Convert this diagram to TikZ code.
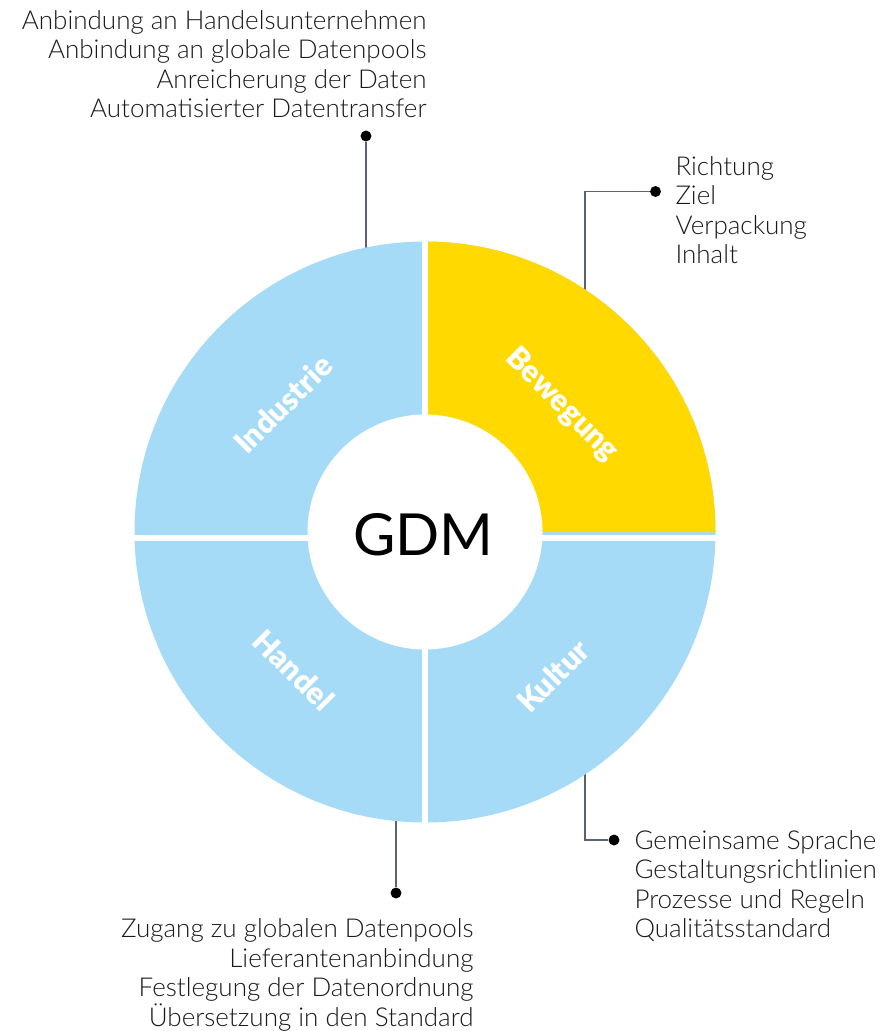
\documentclass[tikz,border=0pt]{standalone}
\usepackage{fontspec}
\setmainfont{Lato}[UprightFont={* Light}, BoldFont={* Black}]
\newfontfamily\gdmfont{Lato}
\definecolor{gdmblue}{RGB}{166,219,247}
\definecolor{gdmyellow}{RGB}{255,217,0}
\definecolor{calloutgrey}{RGB}{90,98,115}
\tikzset{every picture/.style={line width=0.75pt}}
\tikzset{
  callout/.style={draw=calloutgrey, line width=1.1pt},
  dot/.style={circle, fill=black, inner sep=0pt, minimum size=8.2pt},
  seglabel/.style={text=white, inner sep=0pt, font=\fontsize{23}{26}\selectfont\bfseries},
  listtext/.style={text=black!90, inner sep=0pt, font=\fontsize{19.5}{22.1}\selectfont},
}

\begin{document}
\begin{tikzpicture}[x=0.75pt,y=0.75pt,yscale=-1,xscale=1]
\useasboundingbox (0,0) rectangle (881,1031);

%Callout dots and the points where the lines meet the ring
\node [dot] (indDot) at (366,136) {};
\node [dot] (bewDot) at (655.5,191.5) {};
\node [dot] (hanDot) at (396,893) {};
\node [dot] (kulDot) at (614,840) {};
\coordinate (indEdge) at (366,260);
\coordinate (bewEdge) at (585,300);
\coordinate (hanEdge) at (396,810);
\coordinate (kulEdge) at (585,765);

%Straight Lines
\draw [callout] (indDot) -- (indEdge) ;
\draw [callout] (bewEdge) |- (bewDot) ;
\draw [callout] (hanEdge) -- (hanDot) ;
\draw [callout] (kulEdge) |- (kulDot) ;

%Shape: Ring
\fill [gdmblue] (425,532) circle [radius=290.5] ;
\fill [gdmyellow] (425,532) -- (715.5,532) arc [start angle=0, end angle=-90, radius=290.5] -- cycle ;
%Gaps between the quarters
\draw [white, line width=3.8pt] (425,236) -- (425,828) ;
\draw [white, line width=3.8pt] (128,538) -- (722,538) ;
%Shape: Circle
\fill [white] (425,532) circle [radius=117.5] ;

% Text Node
\node [font=\gdmfont\fontsize{43.5}{48}\selectfont, inner sep=0pt] (gdm) at (423.5,534.5) {GDM};
% Text Node
\node [seglabel, rotate=45] (industrie) at (283,404) {Industrie};
\node [seglabel, rotate=-45] (bewegung) at (562,405) {Bewegung};
\node [seglabel, rotate=-45] (handel) at (294,670) {Handel};
\node [seglabel, rotate=45] (kultur) at (553,676) {Kultur};

% Text Node
\node [listtext, align=right, anchor=east] (indList) at (427,64) {Anbindung an Handelsunternehmen\\Anbindung an globale Datenpools\\Anreicherung der Daten\\Automatisierter Datentransfer};
% Text Node
\node [listtext, align=left, anchor=west] (bewList) at (675,210) {Richtung\\Ziel\\Verpackung\\Inhalt};
% Text Node
\node [listtext, align=right, anchor=east] (hanList) at (474,975) {Zugang zu globalen Datenpools\\Lieferantenanbindung\\Festlegung der Datenordnung\\Übersetzung in den Standard};
% Text Node
\node [listtext, align=left, anchor=west] (kulList) at (634,886) {Gemeinsame Sprache\\Gestaltungsrichtlinien\\Prozesse und Regeln\\Qualitätsstandard};

\end{tikzpicture}
\end{document}
